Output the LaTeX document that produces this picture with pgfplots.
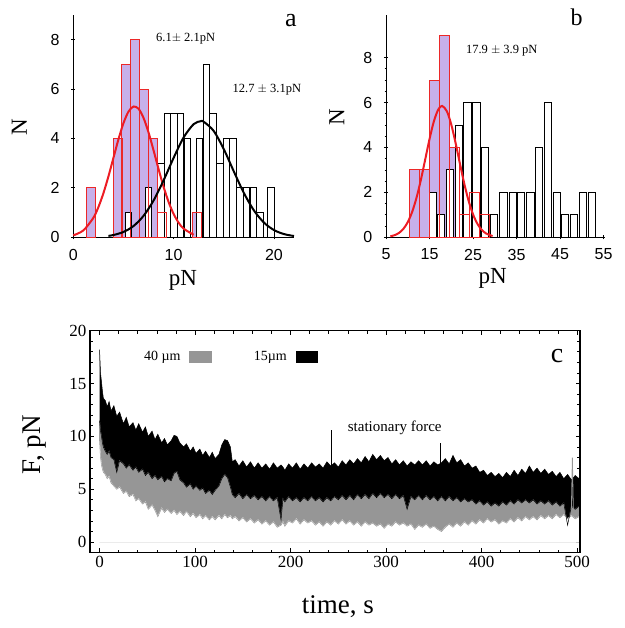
\documentclass[border=0pt]{standalone}
\usepackage{fontspec}
\setmainfont{Liberation Serif}
\setsansfont{Liberation Sans}
\usepackage{pgfplots}
\usepackage{pgfplotstable}
\pgfplotsset{compat=1.18}

\definecolor{barpurple}{RGB}{199,176,234}
\definecolor{barred}{RGB}{236,40,40}
\definecolor{fitred}{RGB}{237,28,36}
\definecolor{trgray}{RGB}{150,150,150}
\newcommand{\fs}[1]{\fontsize{#1}{#1}\selectfont}

% histogram a
\pgfplotstableread{
x y
1.77 2
4.43 4
5.28 7
6.17 8
7.05 6
7.95 4
8.87 1
12.37 1
}\redA
\pgfplotstableread{
x y
5.5 1
7.5 2
8.75 3
9.4 5
10.05 5
10.7 5
11.4 4
12.6 4
13.27 7
13.93 5
14.6 3
15.27 4
15.93 4
16.6 2
17.27 2
17.93 2
18.6 1
19.7 2
}\blkA
% histogram b
\pgfplotstableread{
x y
11.5 3
13.8 3
16.1 7
18.4 9
20.7 4
23.0 1
25.3 2
27.6 1
}\redB
\pgfplotstableread{
x y
15.7 2
17.7 1
19.7 3
21.7 5
23.7 6
25.8 6
27.8 4
29.9 1
32.0 2
34.1 2
36.1 2
38.2 2
40.1 4
42.2 6
44.2 2
46.2 1
48.2 1
50.3 2
52.3 2
}\blkB
% force traces: upper/lower edge of 15um band, lower edge of 40um band
\pgfplotstableread{
t bu bl gl
0 18.2 11.5 9.5
1 16.0 10.5 8.0
2 15.2 10.0 7.3
3 14.3 9.4 6.9
4 13.6 9.0 6.6
6 13.4 8.6 6.4
8 12.8 8.3 6.0
10 13.3 8.6 6.2
12 12.4 8.0 5.6
15 12.9 7.8 5.3
18 11.9 6.6 5.0
21 12.3 7.7 5.2
25 11.2 7.4 4.6
28 11.8 7.0 4.8
31 10.9 7.3 4.3
35 11.3 6.8 4.5
38 10.6 7.1 3.9
41 11.2 6.6 4.1
45 10.4 6.9 3.6
48 10.9 6.3 3.8
51 10.0 6.6 3.1
55 10.5 6.0 3.5
58 9.7 6.3 3.0
61 10.2 5.9 2.4
65 9.4 6.2 3.2
68 9.8 5.7 2.8
71 9.2 6.0 3.1
75 9.6 5.8 2.7
78 10.1 6.5 3.0
81 10.0 6.7 2.6
84 9.4 5.9 2.9
88 9.0 5.6 2.5
91 9.3 5.2 2.9
95 8.6 5.5 2.4
98 9.0 5.0 2.7
101 8.4 5.3 2.3
105 8.8 4.9 2.6
108 8.2 5.1 2.2
111 8.6 4.6 2.5
115 8.0 4.9 2.1
118 8.5 4.5 2.4
121 7.9 4.9 2.1
125 8.3 5.3 2.5
128 9.2 6.0 2.2
131 9.7 6.4 2.6
134 9.6 6.1 2.3
137 9.0 5.2 2.5
139 7.6 4.5 2.2
142 7.8 4.2 2.4
146 7.2 4.6 2.0
150 7.7 4.1 2.3
154 7.1 4.5 1.9
158 7.6 4.1 2.2
162 7.0 4.4 1.8
166 7.5 4.0 2.1
170 7.0 4.3 1.7
174 7.4 3.9 2.0
178 6.9 4.3 1.6
182 7.5 3.9 1.9
186 7.0 4.2 1.4
190 7.3 2.1 1.6
192 7.1 4.1 1.9
194 6.8 3.8 1.5
198 7.4 4.3 2.0
202 7.0 3.9 1.8
206 7.5 4.2 2.2
210 6.9 3.8 1.7
214 7.4 4.2 2.1
218 7.0 3.9 1.8
222 7.5 4.3 2.0
226 7.1 3.9 1.6
230 7.4 4.2 1.9
234 7.0 3.8 1.5
238 7.6 4.2 1.9
242 7.2 3.9 1.6
246 7.5 4.3 2.0
250 7.1 4.0 1.7
254 7.7 4.4 2.1
258 7.3 4.0 1.7
262 7.8 4.4 2.0
266 7.4 4.0 1.6
270 7.9 4.5 1.9
274 7.5 4.1 1.5
278 8.1 4.5 1.9
282 7.6 4.1 1.6
286 8.3 4.6 1.8
290 7.8 4.2 1.5
294 8.2 4.6 1.7
298 7.7 4.2 1.3
302 8.0 4.5 1.7
306 7.4 4.1 1.5
310 7.8 4.5 1.9
314 7.3 4.1 1.6
318 7.7 4.4 1.8
322 7.2 3.1 1.5
326 7.6 4.3 1.7
330 7.3 4.0 1.2
334 7.7 4.4 1.6
338 7.3 4.0 1.4
342 7.7 4.4 1.7
346 7.2 4.0 1.3
350 7.6 4.3 1.5
354 7.3 3.9 1.2
358 7.5 4.3 1.0
362 7.9 3.9 1.4
366 7.4 4.3 1.7
370 8.2 3.9 1.4
374 7.5 4.2 1.8
378 7.8 3.8 1.5
382 7.2 4.1 1.9
386 7.5 3.8 1.6
390 7.0 4.0 2.0
394 7.2 3.6 1.7
398 6.6 3.9 2.1
402 6.8 3.5 1.8
406 6.3 3.8 2.2
410 6.6 3.4 1.9
414 6.2 3.7 2.1
418 6.5 3.4 1.7
422 6.1 3.8 2.0
426 6.6 3.5 1.8
430 6.2 3.9 2.2
434 6.8 3.6 1.9
438 6.3 4.0 2.3
442 6.9 3.7 2.0
446 6.5 4.0 2.4
450 7.2 3.7 2.1
454 6.6 4.0 2.4
458 7.0 3.6 2.1
462 6.5 3.9 2.5
466 6.9 3.6 2.2
470 6.4 3.9 2.5
474 6.7 3.5 2.2
478 6.2 3.8 2.6
482 6.6 3.4 2.3
486 6.0 3.7 2.6
490 6.4 1.6 2.2
494 5.9 3.4 2.5
498 6.3 3.1 2.2
502 6.0 3.4 2.4
}\trace

\pgfplotsset{
  hist/.style={
    scale only axis, height=222.3pt,
    axis lines=left, axis line style={-, line width=1pt},
    ymin=0, ytick={0,2,4,6,8},
    tick style={black, line width=0.8pt},
    tick label style={font=\sffamily\fs{16}},
    /pgf/number format/assume math mode=true,
    xticklabel style={yshift=-6pt},
    yticklabel style={xshift=-8pt},
    label style={font=\fs{23}},
    clip=false,
  },
  redbar/.style={ybar, bar shift=0pt, fill=barpurple, draw=barred, line width=0.9pt},
  redline/.style={ybar, bar shift=0pt, fill=none, draw=barred, line width=0.9pt},
  blkbar/.style={ybar, bar shift=0pt, fill=white, draw=black, line width=0.9pt},
}

\begin{document}
\begin{tikzpicture}
\useasboundingbox (0pt,0pt) rectangle (624pt,628pt);

% ---- a ----
\begin{axis}[hist, at={(73.3pt,390.7pt)}, anchor=south west, width=220.7pt,
  xmin=0, xmax=22, ymax=9, xtick={0,10,20},
  xlabel={pN}, ylabel={N},
  xlabel style={at={(axis description cs:0.497,-0.192)}, anchor=center},
  ylabel style={at={(axis description cs:-0.245,0.496)}, anchor=center}]
\addplot[redbar, bar width=0.9] table[x=x,y=y] {\redA};
\addplot[blkbar, bar width=0.64] table[x=x,y=y] {\blkA};
\addplot[redline, bar width=0.9] table[x=x,y=y] {\redA};
\addplot[fitred, line width=2pt, smooth] coordinates {
(0,0.078) (1,0.278) (2,0.788) (2.5,1.220) (3,1.783) (3.5,2.463) (4,3.215) (4.5,3.965)
(5,4.621) (5.5,5.088) (6,5.294) (6.5,5.205) (7,4.835) (7.5,4.244) (8,3.520) (8.5,2.759)
(9,2.043) (9.5,1.429) (10,0.945) (10.5,0.590) (11,0.348) (12,0.102)};
\addplot[black, line width=2pt, smooth] coordinates {
(3.5,0.057) (4,0.092) (5,0.215) (6,0.455) (7,0.867) (8,1.489) (9,2.305) (10,3.216)
(11,4.044) (12,4.582) (12.7,4.700) (13,4.678) (14,4.304) (15,3.569) (16,2.667)
(17,1.796) (18,1.090) (19,0.596) (20,0.294) (21,0.130) (22,0.052)};
\node[font=\fs{12.5}] at (axis cs:11.2,8.06) {6.1$\pm$ 2.1pN};
\node[font=\fs{12.5}] at (axis cs:19.3,5.99) {12.7 $\pm$ 3.1pN};
\node[font=\fs{26}] at (axis cs:21.7,8.77) {a};
\end{axis}

% ---- b ----
\begin{axis}[hist, at={(386pt,390.7pt)}, anchor=south west, width=219.3pt,
  xmin=5, xmax=55.4, ymax=9.9, xtick={5,15,...,55},
  minor y tick num=3,
  xlabel={pN}, ylabel={N},
  xlabel style={at={(axis description cs:0.486,-0.183)}, anchor=center},
  ylabel style={at={(axis description cs:-0.224,0.541)}, anchor=center}]
\addplot[redbar, bar width=2.3] table[x=x,y=y] {\redB};
\addplot[blkbar, bar width=1.65] table[x=x,y=y] {\blkB};
\addplot[redline, bar width=2.3] table[x=x,y=y] {\redB};
\addplot[fitred, line width=2pt, smooth] coordinates {
(6,0.043) (7,0.096) (8,0.196) (9,0.377) (10,0.674) (11,1.125) (12,1.753) (13,2.547)
(14,3.455) (15,4.372) (16,5.163) (17,5.688) (17.9,5.850) (19,5.610) (20,5.022)
(21,4.194) (22,3.269) (23,2.377) (24,1.613) (25,1.021) (26,0.603) (27,0.333)
(28,0.171) (29.5,0.055)};
\node[font=\fs{12.5}] at (axis cs:31.6,8.32) {17.9 $\pm$ 3.9 pN};
\node[font=\fs{24}] at (axis cs:48.8,9.8) {b};
\end{axis}

% ---- c ----
\begin{axis}[scale only axis, at={(90pt,75.3pt)}, anchor=south west,
  width=490pt, height=222pt,
  xmin=-10, xmax=503, ymin=-1, ymax=20,
  xtick={0,100,...,500}, ytick={0,5,...,20},
  minor x tick num=4, minor y tick num=4,
  axis line style={black, line width=1.1pt},
  tick style={black, line width=0.7pt},
  tick label style={font=\rmfamily\fs{17}},
  /pgf/number format/assume math mode=true,
  xlabel={time, s}, ylabel={F, pN},
  label style={font=\rmfamily\fs{27}},
  xlabel style={at={(axis description cs:0.506,-0.243)}, anchor=center},
  ylabel style={at={(axis description cs:-0.114,0.485)}, anchor=center}]
% layered fills down to zero: black under the upper edge, grey under the
% lower edge of the 15um band, white under the lower edge of the 40um band
\addplot[draw=none, fill=black] table[x=t,y=bu] {\trace} \closedcycle;
\addplot[draw=trgray, line width=0.6pt, fill=trgray] table[x=t,y=bl] {\trace} \closedcycle;
\addplot[draw=white, line width=0.8pt, fill=white] table[x=t,y=gl] {\trace} \closedcycle;
\addplot[trgray, line width=0.5pt] table[x=t,y=gl] {\trace};
\addplot[black, line width=0.5pt] table[x=t,y=bu] {\trace};
\addplot[black, line width=0.5pt] table[x=t,y=bl] {\trace};
\addplot[trgray, line width=0.8pt] coordinates {(494,3.2) (495,8.0) (496,3.0)};
\addplot[black, line width=0.8pt] coordinates {(242.5,7.0) (242.5,10.6)};
\addplot[black, line width=0.8pt] coordinates {(356.5,7.4) (356.5,9.4)};
\node[font=\fs{14}] at (axis cs:65.7,17.5) {40 µm};
\fill[trgray] (axis cs:93.5,16.95) rectangle (axis cs:117.6,18.05);
\node[font=\fs{14}] at (axis cs:178.7,17.5) {15µm};
\fill[black] (axis cs:205.9,16.95) rectangle (axis cs:229,18.05);
\node[font=\fs{28}] at (axis cs:479,17.6) {c};
\node[font=\fs{15}] at (axis cs:309,10.8) {stationary force};
\draw[black, line width=1.1pt] (rel axis cs:0,0) rectangle (rel axis cs:1,1);
\end{axis}
\end{tikzpicture}
\end{document}
